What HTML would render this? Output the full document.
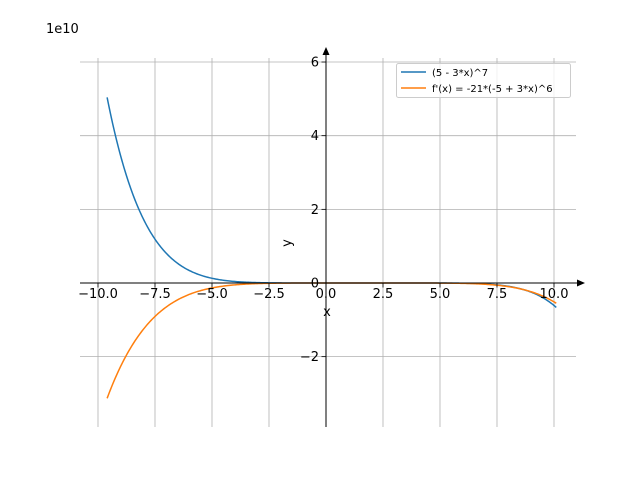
<!DOCTYPE html>
<html><head><meta charset="utf-8"><style>
html,body{margin:0;padding:0;background:#fff;}
svg{display:block;font-family:"DejaVu Sans","Liberation Sans",sans-serif;}
</style></head><body>
<svg id="s" width="640" height="480" viewBox="0 0 640 480" xmlns="http://www.w3.org/2000/svg">
<g id="grid" stroke="#b0b0b0" stroke-width="0.8"></g>
<g id="curves" fill="none" stroke-width="1.5"></g>
<!-- spines -->
<line x1="80" y1="283" x2="583" y2="283" stroke="#000" stroke-width="1"/>
<polygon points="585,283 577,279.5 577,286.5" fill="#000"/>
<line x1="326" y1="427" x2="326" y2="52" stroke="#000" stroke-width="1"/>
<polygon points="326,47 322.5,55 329.5,55" fill="#000"/>
<g id="ticks" stroke="#000" stroke-width="0.8"></g>
<g id="labels" font-size="13" fill="#000"></g>
<text x="46" y="33" font-size="13">1e10</text>
<text x="327" y="316" font-size="13" text-anchor="middle">x</text>
<text x="291" y="243" font-size="13" text-anchor="middle" transform="rotate(-90 291 243)">y</text>
<!-- legend -->
<rect x="396.5" y="63.5" width="174" height="34" fill="#fff" fill-opacity="0.8" stroke="#cccccc" stroke-width="1" rx="2"/>
<line x1="401" y1="72" x2="426" y2="72" stroke="#1f77b4" stroke-width="1.5"/>
<text x="432" y="76" font-size="10">(5 - 3*x)^7</text>
<line x1="401" y1="88" x2="426" y2="88" stroke="#ff7f0e" stroke-width="1.5"/>
<text x="432" y="92" font-size="10">f'(x) = -21*(-5 + 3*x)^6</text>
</svg>
<script>
var NS="http://www.w3.org/2000/svg";
function el(p,t,a){var e=document.createElementNS(NS,t);for(var k in a)e.setAttribute(k,a[k]);document.getElementById(p).appendChild(e);return e;}
function X(x){return 326+x*22.8;}
function Y(y){return 283-y*36.83;}
var xt=[-10,-7.5,-5,-2.5,0,2.5,5,7.5,10];
xt.forEach(function(v){var px=X(v);
 el("grid","line",{x1:px,y1:58,x2:px,y2:427});
 el("ticks","line",{x1:px,y1:283,x2:px,y2:287.5});
 var t=el("labels","text",{x:px,y:298,"text-anchor":"middle"});t.textContent=(v<0?"\u2212":"")+Math.abs(v).toFixed(1);
});
[-2,0,2,4,6].forEach(function(v){var py=Y(v);
 el("grid","line",{x1:80,y1:py,x2:576,y2:py});
 el("ticks","line",{x1:321.5,y1:py,x2:326,y2:py});
 var t=el("labels","text",{x:319,y:py+4.5,"text-anchor":"end"});t.textContent=(v<0?"\u2212":"")+Math.abs(v);
});
var a="",b="";
for(var i=0;i<=400;i++){var x=-9.6+19.7*i/400;
 var f=Math.pow(5-3*x,7)/1e10,g=-21*Math.pow(3*x-5,6)/1e10;
 a+=(i?"L":"M")+X(x).toFixed(2)+","+Y(f).toFixed(2);
 b+=(i?"L":"M")+X(x).toFixed(2)+","+Y(g).toFixed(2);}
el("curves","path",{d:a,stroke:"#1f77b4"});
el("curves","path",{d:b,stroke:"#ff7f0e"});
</script>
</body></html>
